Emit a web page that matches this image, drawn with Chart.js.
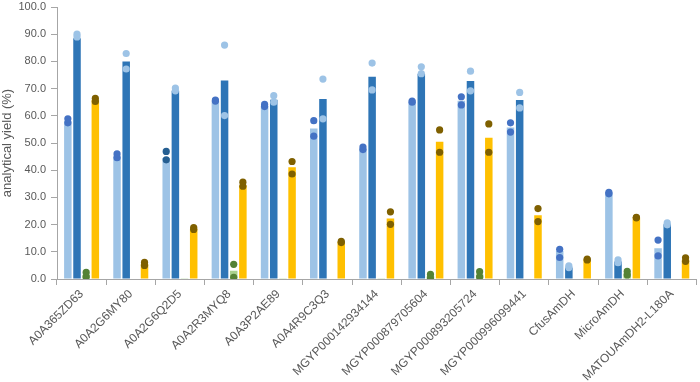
<!DOCTYPE html>
<html>
<head>
<meta charset="utf-8">
<script src="https://cdn.jsdelivr.net/npm/chart.js@4"></script>
<style>
  html, body { margin: 0; padding: 0; background: #fff; }
  #wrap { width: 700px; height: 382px; }
</style>
</head>
<body>
<div id="wrap"><canvas id="can" width="700" height="382"></canvas></div>
<script>
// categories (enzymes)
const categories = ["A0A365ZD63","A0A2G6MY80","A0A2G6Q2D5","A0A2R3MYQ8","A0A3P2AE89","A0A4R9C3Q3",
  "MGYP000142934144","MGYP000879705604","MGYP000893205724","MGYP000996099441","CfusAmDH","MicroAmDH","MATOUAmDH2-L180A"];

// bar means
const lightBlue = [58.0, 45.0, 44.5, 65.5, 63.5, 55.3, 47.8, 65.0, 65.5, 55.7, 10.3, 31.5, 11.3];
const darkBlue  = [88.5, 80.0, 69.2, 73.0, 65.9, 66.2, 74.4, 75.5, 72.8, 65.8, 4.2, 6.4, 20.1];
const green     = [1.6, 0, 0.3, 3.0, 0.3, 0, 0.3, 1.0, 1.7, 0, 0, 2.0, 0];
const yellow    = [65.8, 5.5, 18.5, 34.5, 41.1, 13.6, 22.2, 50.5, 51.9, 23.4, 7.0, 22.6, 7.1];

// replicates (dots)
const lightBlueA = [58.9, 46.0, 46.9, 65.8, 64.2, 58.2, 48.5, 65.4, 67.0, 57.4, 10.9, 31.9, 14.3];
const lightBlueB = [57.4, 44.6, 43.8, 65.4, 63.4, 52.5, 47.6, 65.0, 64.0, 54.0, 7.9, 31.3, 8.5];
const darkBlueA  = [90.0, 82.9, 70.2, 86.0, 67.4, 73.5, 79.4, 78.0, 76.4, 68.6, 4.8, 7.0, 20.6];
const darkBlueB  = [89.0, 77.2, 69.2, 60.1, 65.0, 58.9, 69.5, 75.5, 69.2, 62.9, 4.2, 6.0, 19.9];
const greenA     = [2.4, null, null, 5.4, null, null, null, 1.7, 2.7, null, null, 2.8, null];
const greenB     = [0.8, null, null, 0.6, null, null, null, 0.3, 0.8, null, null, 1.5, null];
const yellowA    = [66.4, 6.1, 18.9, 35.6, 43.2, 13.8, 24.7, 54.8, 57.0, 25.9, 7.3, 22.7, 7.8];
const yellowB    = [65.3, 5.0, 18.2, 34.1, 38.6, 13.4, 20.1, 46.6, 46.6, 21.1, 7.0, 22.5, 6.5];

const yTicks = [0, 10, 20, 30, 40, 50, 60, 70, 80, 90, 100];

// dots of the 3rd enzyme in the light series are darker
const lbDotColors = categories.map((c, i) => i === 2 ? '#255E91' : '#4472C4');

function barSet(data, color) {
  return {
    type: 'bar', data: data, order: 2, backgroundColor: color,
    categoryPercentage: 0.745, barPercentage: 0.82
  };
}

// dots: a line dataset with no line, tied to a bar dataset by "bar"
function dotSet(data, color, bar) {
  return {
    type: 'line', data: data, order: 1, bar: bar, showLine: false,
    pointRadius: 3.6, pointBorderWidth: 0, pointHoverRadius: 3.6,
    pointBackgroundColor: color, backgroundColor: color, borderColor: color
  };
}

// move every dot onto the centre of its bar
const onBars = {
  id: 'onBars',
  afterDatasetsUpdate(chart) {
    chart.data.datasets.forEach((ds, di) => {
      if (ds.bar === undefined) return;
      const bars = chart.getDatasetMeta(ds.bar).data;
      chart.getDatasetMeta(di).data.forEach((pt, i) => { if (bars[i]) pt.x = bars[i].x; });
    });
  }
};

const fontFam = '"Liberation Sans", Arial, sans-serif';
const axisGray = '#A6A6A6';

new Chart(document.getElementById('can').getContext('2d'), {
  type: 'bar',
  data: {
    labels: categories,
    datasets: [
      barSet(lightBlue, '#9DC3E6'),
      barSet(darkBlue, '#2E75B6'),
      barSet(green, '#A9D18E'),
      barSet(yellow, '#FFC000'),
      dotSet(lightBlueA, lbDotColors, 0),
      dotSet(lightBlueB, lbDotColors, 0),
      dotSet(darkBlueA, '#9DC3E6', 1),
      dotSet(darkBlueB, '#9DC3E6', 1),
      dotSet(greenA, '#548235', 2),
      dotSet(greenB, '#548235', 2),
      dotSet(yellowA, '#7F6000', 3),
      dotSet(yellowB, '#7F6000', 3)
    ]
  },
  plugins: [onBars],
  options: {
    responsive: false,
    animation: false,
    layout: { padding: { top: 7, right: 2, left: 0, bottom: 0 } },
    plugins: { legend: { display: false }, tooltip: { enabled: false } },
    scales: {
      x: {
        grid: { drawOnChartArea: false, color: axisGray, tickLength: 6 },
        border: { color: axisGray },
        ticks: { color: '#595959', font: { family: fontFam, size: 12 }, minRotation: 45, maxRotation: 45, padding: 2 },
        afterFit: s => { s.height = 103; s.paddingLeft = 0; s.paddingRight = 0; }
      },
      y: {
        min: 0, max: 100,
        afterBuildTicks: s => { s.ticks = yTicks.map(v => ({value: v})); },
        grid: { drawOnChartArea: false, color: axisGray, tickLength: 6 },
        border: { color: axisGray },
        ticks: { color: '#595959', font: { family: fontFam, size: 11 }, padding: 5, callback: v => v.toFixed(1) },
        title: { display: true, text: 'analytical yield (%)', color: '#595959', font: { family: fontFam, size: 13 }, padding: 0 },
        afterFit: s => { s.width = 57; s.paddingTop = 0; s.paddingBottom = 0; }
      }
    }
  }
});
</script>
</body>
</html>
